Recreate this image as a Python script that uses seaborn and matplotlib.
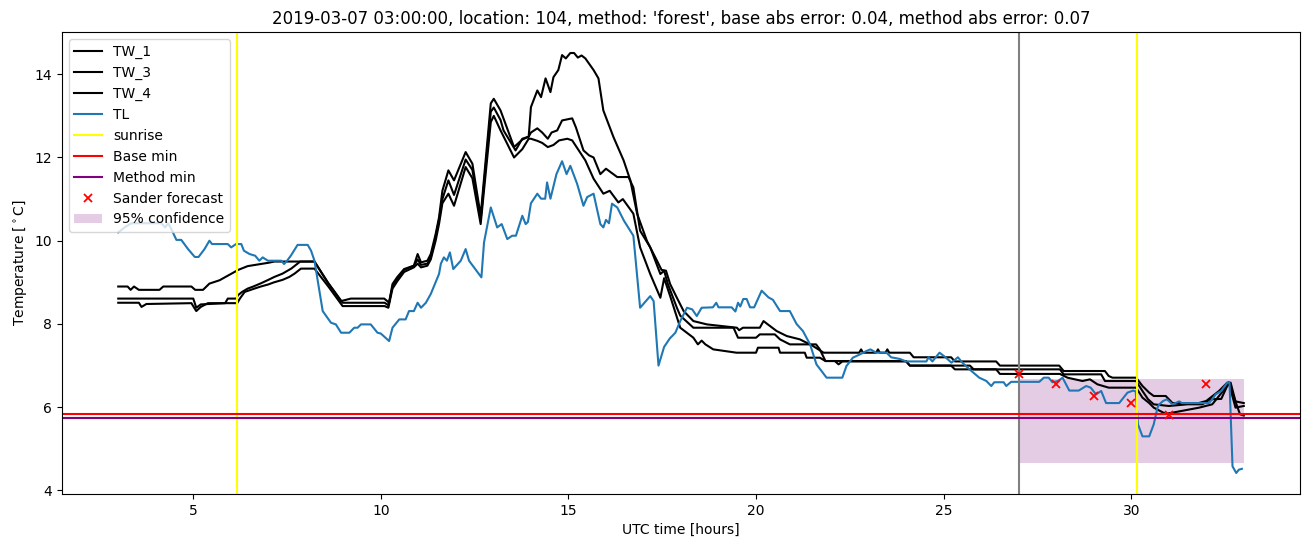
import matplotlib
matplotlib.use("Agg")
import matplotlib.pyplot as plt
import seaborn as sns
import pandas as pd

# ---------------- data (hours since 2019-03-07 00:00 UTC, temperature in degC) ----------------
tw1_t = [3.0, 3.25, 3.33, 3.42, 3.55, 4.1, 4.2, 4.95, 5.05, 5.26, 5.43, 5.7, 6.0, 6.2, 6.45, 7.0, 7.16,
         8.23, 8.58, 8.94, 9.2, 10.09, 10.22, 10.31, 10.44, 10.62, 10.88, 10.98, 11.07, 11.24, 11.33,
         11.46, 11.55, 11.64, 11.8, 11.95, 12.26, 12.44, 12.66, 12.93, 13.01, 13.19, 13.55, 13.77,
         13.94, 14.0, 14.17, 14.27, 14.39, 14.52, 14.6, 14.73, 14.83, 14.93, 15.05, 15.15, 15.25,
         15.35, 15.45, 15.67, 15.8, 15.93, 16.2, 16.47, 16.65, 16.83, 17.09, 17.36, 17.48, 17.6,
         17.71, 17.89, 18.07, 18.33, 18.69, 19.49, 19.55, 19.65, 20.1, 20.2, 20.3, 20.55, 20.82,
         21.17, 21.52, 21.8, 22.75, 22.8, 22.85, 23.2, 23.25, 23.3, 23.45, 23.5, 23.55, 24.1, 24.2,
         25.2, 25.3, 26.4, 26.5, 28.08, 28.2, 29.3, 29.4, 29.5, 30.13, 30.3, 30.48, 30.6, 30.92,
         31.1, 31.8, 32.0, 32.34, 32.56, 32.65, 32.78, 33.0]
tw1_v = [8.9, 8.9, 8.82, 8.9, 8.82, 8.82, 8.9, 8.9, 8.82, 8.82, 8.97, 9.05, 9.2, 9.3, 9.39, 9.47, 9.5,
         9.5, 9.0, 8.55, 8.61, 8.61, 8.51, 8.96, 9.13, 9.32, 9.4, 9.68, 9.48, 9.52, 9.68,
         10.16, 10.56, 11.2, 11.69, 11.45, 12.13, 11.85, 10.6, 13.3, 13.41, 13.13, 12.25, 12.43,
         12.5, 13.21, 13.61, 13.45, 13.9, 13.57, 13.93, 14.1, 14.46, 14.38, 14.51, 14.51, 14.4,
         14.45, 14.38, 14.1, 13.9, 13.13, 12.49, 11.93, 11.45, 10.65, 10.0, 9.52, 9.3, 9.28,
         8.96, 8.63, 8.31, 8.07, 7.99, 7.91, 7.85, 7.91, 7.91, 8.07, 8.0, 7.83, 7.71,
         7.63, 7.47, 7.31, 7.31, 7.39, 7.31, 7.31, 7.39, 7.31, 7.31, 7.39, 7.31, 7.31, 7.2,
         7.2, 7.1, 7.1, 7.0, 7.0, 6.87, 6.87, 6.75, 6.71, 6.71, 6.51, 6.35, 6.27, 6.27,
         6.1, 6.1, 6.15, 6.39, 6.59, 6.59, 6.14, 6.1]

tw3_t = [3.0, 5.0, 5.08, 5.2, 5.85, 5.92, 6.15, 6.19, 6.3, 6.45, 6.6, 6.81, 7.0, 7.16, 7.38, 7.61, 7.78,
         7.85, 8.23, 8.6, 8.98, 10.1, 10.2, 10.31, 10.44, 10.62, 10.88, 10.98, 11.07, 11.24, 11.33,
         11.46, 11.55, 11.64, 11.8, 11.95, 12.26, 12.44, 12.66, 12.93, 13.01, 13.19, 13.27, 13.59,
         13.77, 13.94, 14.0, 14.17, 14.3, 14.45, 14.55, 14.7, 14.83, 15.1, 15.2, 15.4, 15.55, 15.67,
         15.85, 16.0, 16.3, 16.6, 16.73, 16.91, 17.18, 17.45, 17.55, 17.65, 17.89, 17.98, 18.33,
         19.4, 19.52, 20.0, 20.1, 20.5, 20.64, 20.9, 21.6, 21.7, 21.85, 24.0, 24.1, 25.2, 25.3,
         28.1, 28.2, 29.2, 29.3, 30.13, 30.3, 30.45, 30.6, 31.0, 31.5, 31.9, 32.1, 32.4, 32.6,
         32.78, 33.0]
tw3_v = [8.61, 8.61, 8.39, 8.47, 8.5, 8.61, 8.61, 8.69, 8.77, 8.85, 8.9, 8.98, 9.06, 9.13, 9.21, 9.33, 9.45,
         9.5, 9.5, 8.98, 8.51, 8.51, 8.45, 8.9, 9.08, 9.3, 9.4, 9.55, 9.42, 9.45, 9.6,
         10.1, 10.5, 11.0, 11.45, 11.1, 11.95, 11.7, 10.5, 13.1, 13.2, 12.9, 12.65, 12.17,
         12.45, 12.5, 12.6, 12.7, 12.6, 12.45, 12.6, 12.65, 12.89, 12.94, 12.72, 12.17, 12.05, 12.0,
         11.6, 11.73, 11.53, 11.53, 11.28, 10.24, 9.84, 9.2, 9.28, 8.96, 8.39, 8.2, 7.91,
         7.91, 7.67, 7.67, 7.75, 7.75, 7.63, 7.51, 7.51, 7.39, 7.11, 7.11, 7.0, 7.0, 6.91,
         6.91, 6.79, 6.79, 6.63, 6.63, 6.39, 6.19, 6.07, 6.03, 6.07, 6.07, 6.19, 6.2, 6.59,
         5.99, 6.03]

tw4_t = [3.0, 3.55, 3.62, 3.75, 4.95, 5.08, 5.2, 5.39, 6.17, 6.25, 6.37, 6.63, 6.8, 7.0, 7.15, 7.38,
         7.56, 7.7, 7.87, 8.23, 8.6, 8.98, 10.1, 10.2, 10.31, 10.44, 10.62, 10.88, 10.98, 11.07,
         11.24, 11.33, 11.46, 11.55, 11.64, 11.8, 11.95, 12.26, 12.44, 12.66, 12.93, 13.01, 13.19,
         13.55, 13.77, 13.94, 14.0, 14.17, 14.3, 14.45, 14.6, 14.75, 14.97, 15.1, 15.45, 15.67,
         15.93, 16.1, 16.33, 16.45, 16.73, 16.91, 17.18, 17.45, 17.55, 17.7, 17.98, 18.33, 18.45,
         18.55, 18.65, 18.86, 19.48, 20.0, 20.05, 20.6, 20.64, 21.3, 21.35, 21.7, 21.85, 22.1,
         22.2, 22.3, 24.0, 24.1, 25.7, 25.8, 26.4, 26.5, 28.1, 28.3, 28.7, 28.9, 29.1, 29.4,
         30.13, 30.3, 30.48, 30.6, 30.92, 31.28, 31.81, 32.16, 32.52, 32.6, 32.9, 33.0]
tw4_v = [8.51, 8.51, 8.41, 8.48, 8.5, 8.31, 8.41, 8.5, 8.5, 8.62, 8.77, 8.85, 8.9, 8.95, 9.0, 9.06,
         9.13, 9.21, 9.33, 9.33, 8.9, 8.43, 8.43, 8.39, 8.85, 9.03, 9.25, 9.36, 9.45, 9.36,
         9.4, 9.55, 10.0, 10.4, 10.9, 11.13, 10.84, 11.77, 11.5, 10.4, 12.85, 13.0, 12.65,
         12.0, 12.2, 12.45, 12.45, 12.4, 12.35, 12.25, 12.3, 12.41, 12.45, 12.41, 11.93, 11.49,
         11.13, 11.2, 10.92, 11.0, 10.65, 9.84, 9.2, 8.63, 9.1, 8.7, 7.91, 7.67, 7.51,
         7.6, 7.51, 7.39, 7.31, 7.31, 7.43, 7.43, 7.31, 7.31, 7.19, 7.19, 7.11, 7.11,
         7.03, 7.1, 7.1, 7.0, 7.0, 6.91, 6.91, 6.8, 6.8, 6.71, 6.63, 6.67, 6.55, 6.47,
         6.47, 6.23, 6.1, 5.99, 5.84, 5.9, 5.99, 6.07, 6.47, 6.59, 5.83, 5.8]

tl_t = [3.0, 3.17, 3.35, 4.15, 4.25, 4.33, 4.41, 4.55, 4.68, 4.86, 5.04, 5.14, 5.3, 5.43, 5.5, 5.92,
        6.01, 6.14, 6.28, 6.35, 6.5, 6.65, 6.76, 6.85, 6.99, 7.35, 7.42, 7.5, 7.6, 7.78, 8.05, 8.14,
        8.23, 8.36, 8.45, 8.67, 8.8, 8.94, 9.16, 9.29, 9.38, 9.47, 9.73, 9.91, 10.0, 10.22, 10.31,
        10.49, 10.66, 10.75, 10.88, 10.98, 11.07, 11.2, 11.33, 11.46, 11.55, 11.6, 11.68, 11.76,
        11.84, 11.93, 12.13, 12.26, 12.35, 12.68, 12.75, 12.93, 13.1, 13.22, 13.37, 13.5, 13.6,
        13.77, 13.86, 13.92, 14.0, 14.17, 14.27, 14.38, 14.43, 14.52, 14.68, 14.83, 14.95, 15.05,
        15.23, 15.4, 15.5, 15.67, 15.85, 15.93, 16.0, 16.08, 16.16, 16.3, 16.48, 16.73, 16.91,
        17.18, 17.27, 17.4, 17.55, 17.7, 17.85, 17.98, 18.16, 18.3, 18.42, 18.55, 18.85, 18.94,
        19.0, 19.35, 19.45, 19.52, 19.58, 19.66, 19.75, 19.84, 19.95, 20.15, 20.33, 20.45, 20.64,
        20.9, 21.08, 21.25, 21.44, 21.61, 21.88, 22.3, 22.41, 22.58, 22.77, 22.94, 23.05, 23.2,
        23.48, 23.6, 23.83, 24.0, 24.54, 24.6, 24.7, 24.89, 25.05, 25.21, 25.38, 25.5, 25.69,
        25.95, 26.14, 26.27, 26.35, 26.6, 26.67, 26.8, 27.55, 27.67, 27.8, 27.9, 28.05, 28.17,
        28.35, 28.6, 28.8, 28.92, 29.06, 29.2, 29.33, 29.68, 29.9, 30.05, 30.12, 30.18, 30.3,
        30.48, 30.6, 30.7, 30.75, 30.85, 30.95, 31.1, 31.28, 31.35, 32.07, 32.16, 32.25, 32.4,
        32.56, 32.62, 32.7, 32.8, 32.87, 32.95]
tl_v = [10.2, 10.32, 10.42, 10.42, 10.32, 10.42, 10.29, 10.02, 10.02, 9.8, 9.61, 9.61, 9.8, 10.0, 9.92, 9.92,
        9.84, 9.92, 9.92, 9.76, 9.68, 9.64, 9.52, 9.6, 9.52, 9.52, 9.44, 9.52, 9.64, 9.9, 9.9, 9.76,
        9.52, 8.8, 8.31, 8.03, 7.99, 7.79, 7.79, 7.91, 7.91, 7.99, 7.99, 7.79, 7.77, 7.59, 7.91,
        8.11, 8.11, 8.31, 8.31, 8.51, 8.39, 8.51, 8.72, 9.0, 9.2, 9.45, 9.6, 9.52,
        9.72, 9.32, 9.52, 9.8, 9.52, 9.12, 9.96, 10.8, 10.32, 10.4, 10.04, 10.12, 10.12,
        10.6, 10.4, 10.45, 10.9, 11.13, 11.01, 11.01, 11.4, 11.01, 11.6, 11.91, 11.6, 11.8,
        11.37, 10.84, 11.05, 11.13, 10.4, 10.32, 10.5, 10.42, 10.89, 10.8, 10.48, 10.12, 8.39,
        8.67, 8.55, 7.0, 7.45, 7.65, 7.79, 8.07, 8.39, 8.35, 8.19, 8.39, 8.4, 8.51,
        8.4, 8.4, 8.3, 8.51, 8.42, 8.6, 8.6, 8.4, 8.4, 8.8, 8.64, 8.58, 8.31,
        8.31, 8.0, 7.83, 7.51, 7.03, 6.71, 6.71, 6.99, 7.19, 7.27, 7.35, 7.39, 7.31,
        7.31, 7.2, 7.16, 7.1, 7.1, 7.2, 7.1, 7.31, 7.2, 7.07, 7.2, 7.07, 6.91,
        6.71, 6.63, 6.51, 6.6, 6.6, 6.51, 6.61, 6.61, 6.71, 6.71, 6.6, 6.63, 6.71,
        6.4, 6.4, 6.51, 6.47, 6.31, 6.39, 6.1, 6.1, 6.35, 6.4, 6.38, 5.59, 5.3,
        5.3, 5.59, 5.99, 6.07, 6.15, 6.19, 6.07, 6.14, 6.1, 6.1, 6.19, 6.31, 6.39,
        6.59, 6.59, 4.58, 4.42, 4.5, 4.52]

sunrise_hours = [6.17, 30.16]
forecast_start = 27.0
base_min = 5.84
method_min = 5.73
sander_t = [27, 28, 29, 30, 31, 32]
sander_v = [6.79, 6.55, 6.28, 6.09, 5.82, 6.57]
conf_t = [27.0, 33.0]
conf_low = [4.66, 4.66]
conf_high = [6.68, 6.68]

title = ("2019-03-07 03:00:00, location: 104, method: 'forest', "
         "base abs error: 0.04, method abs error: 0.07")

# ---------------- plot ----------------
plt.rcParams['font.family'] = ['DejaVu Sans']
fig, ax = plt.subplots(figsize=(13.1, 5.47), dpi=100)
fig.subplots_adjust(left=0.0473, right=0.9924, top=0.9415, bottom=0.0969)

series = [("TW_1", tw1_t, tw1_v, "black"),
          ("TW_3", tw3_t, tw3_v, "black"),
          ("TW_4", tw4_t, tw4_v, "black"),
          ("TL", tl_t, tl_v, "#1f77b4")]
for name, t, v, c in series:
    df = pd.DataFrame({"t": t, "v": v})
    sns.lineplot(data=df, x="t", y="v", color=c, label=name, sort=False,
                 estimator=None, linewidth=1.5, ax=ax)

ax.axvline(sunrise_hours[0], color="yellow", label="sunrise", linewidth=1.5)
ax.axvline(sunrise_hours[1], color="yellow", linewidth=1.5)
ax.axvline(forecast_start, color="grey", linewidth=1.5)
ax.axhline(base_min, color="red", label="Base min", linewidth=1.5)
ax.axhline(method_min, color="purple", label="Method min", linewidth=1.5)

sns.lineplot(x=sander_t, y=sander_v, marker="x", linestyle="", color="red",
             markersize=6, markeredgewidth=1.3, markeredgecolor="red",
             label="Sander forecast", ax=ax)
ax.fill_between(conf_t, conf_low, conf_high, color="purple", alpha=0.2,
                linewidth=0, label="95% confidence")

ax.set_title(title, fontsize=12)
ax.set_xlabel("UTC time [hours]")
ax.set_ylabel("Temperature [$^\\circ$C]")
ax.set_xticks([5, 10, 15, 20, 25, 30])
ax.set_yticks([4, 6, 8, 10, 12, 14])
ax.legend(loc="upper left")

fig.savefig("out.png", dpi=100)
